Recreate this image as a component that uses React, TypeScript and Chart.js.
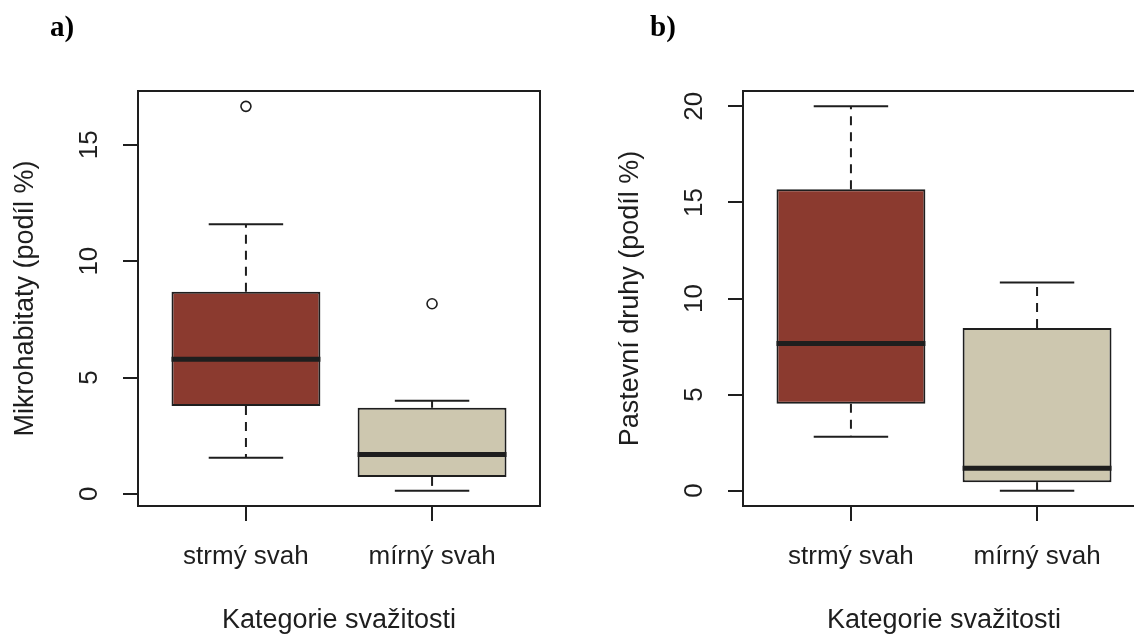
import React, { useEffect, useRef } from "react";
import { Chart, registerables } from "chart.js";

Chart.register(...registerables);

// ---------- data ----------
const categories = ["strmý svah", "mírný svah"];
const xTitle = "Kategorie svažitosti";

// Panel a) Mikrohabitaty
const aTitle = "Mikrohabitaty (podíl %)";
const aMin = [1.55, 0.14];
const aQ1 = [3.78, 0.73];
const aMed = [5.79, 1.69];
const aQ3 = [8.69, 3.7];
const aMax = [11.58, 4.0];
const aOutliers = [[16.65], [8.17]];
const aTicks = [0, 5, 10, 15];

// Panel b) Pastevní druhy
const bTitle = "Pastevní druhy (podíl %)";
const bMin = [2.8, 0.0];
const bQ1 = [4.52, 0.44];
const bMed = [7.66, 1.17];
const bQ3 = [15.69, 8.47];
const bMax = [20.0, 10.83];
const bOutliers: number[][] = [[], []];
const bTicks = [0, 5, 10, 15, 20];

// ---------- style ----------
const boxColors = ["#8B3A2F", "#CDC7AF"];
const INK = "#1e1e1e";
const FONT = "'Liberation Sans', Arial, sans-serif";
const BOXWEX = 0.8;

type Spec = {
  min: number[];
  q1: number[];
  med: number[];
  q3: number[];
  max: number[];
  outliers: number[][];
  ticks: number[];
  title: string;
  axisWidth: number;
  titlePad: number;
  rightPad: number;
};

const framePlugin = {
  id: "frame",
  afterDatasetsDraw(chart: any) {
    const { ctx, chartArea } = chart;
    ctx.save();
    ctx.strokeStyle = INK;
    ctx.lineWidth = 2;
    ctx.strokeRect(
      chartArea.left,
      chartArea.top,
      chartArea.right - chartArea.left,
      chartArea.bottom - chartArea.top
    );
    ctx.restore();
  },
};

function seg(data: { x: number; y: number }[], width: number, dash: number[] = []) {
  return {
    type: "line" as const,
    data,
    borderColor: INK,
    borderWidth: width,
    borderDash: dash,
    pointRadius: 0,
    tension: 0,
    fill: false,
    order: 1,
  };
}

function makeConfig(s: Spec): any {
  const all = [...s.min, ...s.max, ...s.outliers.flat()];
  const lo = Math.min(...all);
  const hi = Math.max(...all);
  const pad = (hi - lo) * 0.04;
  const half = BOXWEX / 2;
  const capHalf = half / 2;

  const datasets: any[] = [];
  datasets.push({
    type: "bar",
    data: categories.map((_, i) => ({ x: i + 1, y: [s.q1[i], s.q3[i]] })),
    backgroundColor: boxColors,
    borderColor: INK,
    borderWidth: 2,
    borderSkipped: false,
    barPercentage: BOXWEX,
    categoryPercentage: 1,
    order: 10,
  });
  categories.forEach((_, i) => {
    const x = i + 1;
    datasets.push(seg([{ x, y: s.q3[i] }, { x, y: s.max[i] }], 2, [9, 7]));
    datasets.push(seg([{ x, y: s.q1[i] }, { x, y: s.min[i] }], 2, [9, 7]));
    datasets.push(seg([{ x: x - capHalf, y: s.max[i] }, { x: x + capHalf, y: s.max[i] }], 2));
    datasets.push(seg([{ x: x - capHalf, y: s.min[i] }, { x: x + capHalf, y: s.min[i] }], 2));
    datasets.push(seg([{ x: x - half, y: s.med[i] }, { x: x + half, y: s.med[i] }], 5));
  });
  const outPts = categories.flatMap((_, i) => s.outliers[i].map((v) => ({ x: i + 1, y: v })));
  if (outPts.length) {
    datasets.push({
      type: "line",
      data: outPts,
      showLine: false,
      pointStyle: "circle",
      pointRadius: 5,
      pointBorderWidth: 1.6,
      pointBorderColor: INK,
      pointBackgroundColor: "rgba(0,0,0,0)",
      order: 0,
    });
  }

  const gridY = {
    drawOnChartArea: false,
    drawTicks: true,
    tickLength: 15,
    color: INK,
    lineWidth: 2,
    offset: false,
  };

  return {
    type: "bar",
    data: { datasets },
    plugins: [framePlugin],
    options: {
      animation: false,
      responsive: false,
      maintainAspectRatio: false,
      layout: { padding: { left: 0, top: 91, right: s.rightPad, bottom: 0 } },
      plugins: {
        legend: { display: false },
        tooltip: { enabled: false },
        title: { display: false },
      },
      scales: {
        x: {
          type: "linear",
          offset: false,
          bounds: "data",
          min: 0.5 - 0.04 * categories.length,
          max: categories.length + 0.5 + 0.04 * categories.length,
          afterBuildTicks: (sc: any) => {
            sc.ticks = categories.map((_, i) => ({ value: i + 1 }));
          },
          afterFit: (sc: any) => {
            sc.height = 131;
          },
          ticks: {
            callback: (_v: any, i: number) => categories[i],
            font: { family: FONT, size: 26 },
            color: INK,
            padding: 20,
            autoSkip: false,
            minRotation: 0,
            maxRotation: 0,
          },
          grid: { ...gridY, offset: false },
          border: { display: false },
          title: {
            display: true,
            text: xTitle,
            font: { family: FONT, size: 27 },
            color: INK,
            padding: { top: 0, bottom: 0 },
          },
        },
        y: {
          type: "linear",
          bounds: "data",
          min: lo - pad,
          max: hi + pad,
          afterBuildTicks: (sc: any) => {
            sc.ticks = s.ticks.map((v) => ({ value: v }));
          },
          afterFit: (sc: any) => {
            sc.width = s.axisWidth;
          },
          ticks: {
            callback: (v: any) => String(v),
            font: { family: FONT, size: 26 },
            color: INK,
            padding: 19,
            minRotation: 90,
            maxRotation: 90,
            crossAlign: "center",
          },
          grid: gridY,
          border: { display: false },
          title: {
            display: true,
            text: s.title,
            font: { family: FONT, size: 27 },
            color: INK,
            padding: { top: s.titlePad, bottom: 0 },
          },
        },
      },
    },
  };
}

function Panel({ spec, left, width }: { spec: Spec; left: number; width: number }) {
  const ref = useRef<HTMLCanvasElement>(null);
  useEffect(() => {
    const chart = new Chart(ref.current as HTMLCanvasElement, makeConfig(spec));
    return () => chart.destroy();
  }, []);
  return (
    <canvas
      ref={ref}
      width={width}
      height={637}
      style={{ position: "absolute", left, top: 0, width, height: 637 }}
    />
  );
}

const specA: Spec = {
  min: aMin, q1: aQ1, med: aMed, q3: aQ3, max: aMax, outliers: aOutliers,
  ticks: aTicks, title: aTitle, axisWidth: 138, titlePad: 9, rightPad: 27,
};
const specB: Spec = {
  min: bMin, q1: bQ1, med: bMed, q3: bQ3, max: bMax, outliers: bOutliers,
  ticks: bTicks, title: bTitle, axisWidth: 176, titlePad: 47, rightPad: 22,
};

const labelStyle: React.CSSProperties = {
  position: "absolute",
  top: 12,
  fontFamily: "'Liberation Serif', 'Times New Roman', serif",
  fontWeight: "bold",
  fontSize: 29,
  lineHeight: "29px",
  color: "#000",
};

export default function App() {
  return (
    <div
      style={{
        position: "fixed",
        left: 0,
        top: 0,
        width: 1134,
        height: 637,
        overflow: "hidden",
        background: "#fff",
      }}
    >
      <Panel spec={specA} left={0} width={567} />
      <Panel spec={specB} left={567} width={600} />
      <div style={{ ...labelStyle, left: 50 }}>a)</div>
      <div style={{ ...labelStyle, left: 650 }}>b)</div>
    </div>
  );
}
